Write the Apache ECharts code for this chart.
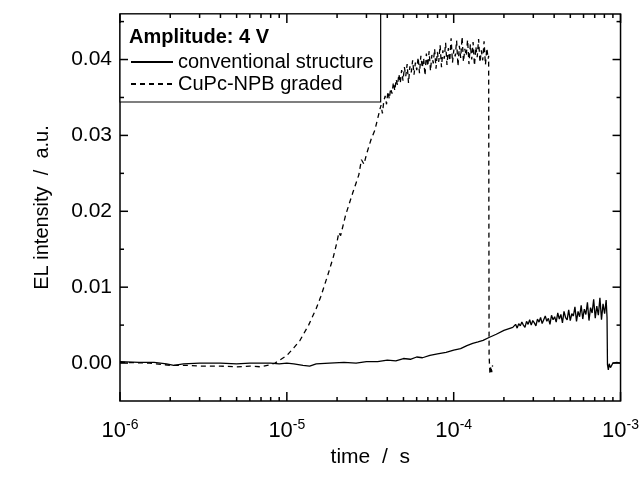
<html style="height: 100%">
<head>
<meta charset="utf-8">
</head>
<body style="height: 100%; margin: 0">
	<div id="container" style="width: 642px; height: 477px"></div>

	<script src="https://cdn.jsdelivr.net/npm/echarts@6/dist/echarts.min.js"></script>
	<script type="text/javascript">
		var dom = document.getElementById("container");
		var myChart = echarts.init(dom);

		var fontFamily = 'Liberation Sans, Arial, sans-serif';

		// axis ranges and tick values
		var xMin = 1e-6, xMax = 1e-3;
		var yMin = -0.005, yMax = 0.046;
		var yLabels = [0, 0.01, 0.02, 0.03, 0.04];
		var yMinor = [0.005, 0.015, 0.025, 0.035, 0.045];
		var xMajor = [1e-6, 1e-5, 1e-4, 1e-3];
		var xMinor = [2e-6, 3e-6, 4e-6, 5e-6, 6e-6, 7e-6, 8e-6, 9e-6,
			2e-5, 3e-5, 4e-5, 5e-5, 6e-5, 7e-5, 8e-5, 9e-5,
			2e-4, 3e-4, 4e-4, 5e-4, 6e-4, 7e-4, 8e-4, 9e-4];

		// conventional structure (solid)
		var solidT = [1e-6, 1.3e-6, 1.6e-6, 1.9e-6, 2.1e-6, 2.4e-6, 3e-6, 4e-6, 5e-6, 6e-6, 7e-6, 8e-6, 9e-6,
			1e-5, 1.1e-5, 1.25e-5, 1.37e-5, 1.5e-5, 1.8e-5, 2.2e-5, 2.6e-5, 3e-5, 3.5e-5, 4e-5, 4.5e-5,
			5e-5, 5.5e-5, 6e-5, 6.5e-5, 7.2e-5, 8e-5, 9e-5, 1e-4, 1.1e-4, 1.2e-4, 1.3e-4, 1.4e-4,
			1.5e-4, 1.64e-4, 1.8e-4, 2e-4, 2.26e-4];
		var solidV = [0.0002, 0.0001, 0.0001, -0.0001, -0.0003, -0.0001, 0, 0, -0.0001, 0, 0, 0, -0.0001,
			0, -0.0001, -0.0003, -0.0004, -0.0001, 0, 0.0001, 0, 0.0002, 0.0002, 0.0004, 0.0003,
			0.0006, 0.0005, 0.0008, 0.0007, 0.0010, 0.0012, 0.0014, 0.0017, 0.0019, 0.0023, 0.0026, 0.0028,
			0.0030, 0.0034, 0.0038, 0.0043, 0.0047];
		// noisy part, 2.3e-4 .. 8.2e-4
		var solidNoiseV = [0.0048, 0.0051, 0.0046, 0.0052, 0.0049, 0.0054, 0.0050, 0.0047, 0.0055, 0.0051,
			0.0057, 0.0050, 0.0056, 0.0053, 0.0049, 0.0058, 0.0054, 0.0060, 0.0052, 0.0057,
			0.0062, 0.0055, 0.0059, 0.0051, 0.0063, 0.0057, 0.0061, 0.0054, 0.0066, 0.0058,
			0.0064, 0.0053, 0.0068, 0.0060, 0.0057, 0.0070, 0.0056, 0.0065, 0.0062, 0.0074,
			0.0055, 0.0068, 0.0061, 0.0076, 0.0058, 0.0071, 0.0064, 0.0080, 0.0056, 0.0073,
			0.0066, 0.0084, 0.0059, 0.0075, 0.0063, 0.0086, 0.0057, 0.0078, 0.0065, 0.0083];
		var solidTailT = [8.3e-4, 8.35e-4, 8.45e-4, 8.55e-4, 8.7e-4, 9e-4, 9.5e-4, 1e-3];
		var solidTailV = [0.0060, -0.0002, -0.0009, -0.0001, -0.0006, 0.0000, 0.0001, 0.0000];

		// CuPc-NPB graded (dashed)
		var dashT = [1e-6, 1.5e-6, 2e-6, 2.5e-6, 3e-6, 4e-6, 5e-6, 6e-6, 7e-6, 8e-6, 8.5e-6, 9.1e-6,
			1e-5, 1.1e-5, 1.2e-5, 1.35e-5, 1.5e-5, 1.6e-5, 1.76e-5, 1.9e-5, 2e-5, 2.05e-5, 2.1e-5,
			2.25e-5, 2.48e-5, 2.7e-5, 2.8e-5, 2.9e-5, 3.0e-5, 3.2e-5, 3.37e-5, 3.5e-5];
		var dashV = [0.0001, 0, -0.0003, -0.0003, -0.0004, -0.0004, -0.0005, -0.0004, -0.0005, -0.0002, 0, 0.0004,
			0.0010, 0.0020, 0.0030, 0.0050, 0.0072, 0.0088, 0.0116, 0.0140, 0.0160, 0.0172, 0.0168,
			0.0195, 0.0224, 0.0248, 0.0268, 0.0262, 0.0275, 0.0295, 0.0307, 0.0322];
		// noisy part, 3.6e-5 .. 1.61e-4
		var dashNoiseV = [0.0333, 0.0340, 0.0329, 0.0345, 0.0352, 0.0341, 0.0358, 0.0348, 0.0362, 0.0355,
			0.0370, 0.0359, 0.0374, 0.0366, 0.0381, 0.0369, 0.0386, 0.0372, 0.0390, 0.0378,
			0.0394, 0.0369, 0.0391, 0.0383, 0.0399, 0.0380, 0.0396, 0.0386, 0.0403, 0.0382,
			0.0405, 0.0389, 0.0402, 0.0379, 0.0408, 0.0391, 0.0411, 0.0385, 0.0406, 0.0395,
			0.0414, 0.0388, 0.0410, 0.0397, 0.0419, 0.0390, 0.0412, 0.0401, 0.0422, 0.0393,
			0.0415, 0.0398, 0.0428, 0.0396, 0.0413, 0.0404, 0.0425, 0.0391, 0.0418, 0.0402,
			0.0430, 0.0397, 0.0414, 0.0405, 0.0426, 0.0394, 0.0420, 0.0400, 0.0423, 0.0392,
			0.0417, 0.0403, 0.0427, 0.0396, 0.0412, 0.0399, 0.0424, 0.0393, 0.0415, 0.0401];
		var dashTailT = [1.62e-4, 1.63e-4, 1.65e-4, 1.67e-4, 1.69e-4, 1.71e-4];
		var dashTailV = [0.0405, 0.0010, -0.0015, -0.0004, -0.0012, -0.0003];

		// sample times for the noisy stretches, evenly spaced on the log axis
		function logGrid(t0, t1, n) {
			var arr = [];
			for (var i = 0; i < n; i++) {
				arr.push(t0 * Math.pow(t1 / t0, i / (n - 1)));
			}
			return arr;
		}

		function zip(ts, vs) {
			var arr = [];
			for (var i = 0; i < ts.length; i++) {
				arr.push([ts[i], vs[i]]);
			}
			return arr;
		}

		var solidData = zip(solidT, solidV)
			.concat(zip(logGrid(2.3e-4, 8.2e-4, solidNoiseV.length), solidNoiseV))
			.concat(zip(solidTailT, solidTailV));
		var dashData = zip(dashT, dashV)
			.concat(zip(logGrid(3.6e-5, 1.61e-4, dashNoiseV.length), dashNoiseV))
			.concat(zip(dashTailT, dashTailV));

		var option = {
			animation: false,
			backgroundColor: '#fff',
			title: {
				text: 'Amplitude: 4 V',
				left: 129,
				top: 27,
				padding: 0,
				textStyle: { fontSize: 20, fontWeight: 'bold', color: '#000', fontFamily: fontFamily }
			},
			legend: {
				orient: 'vertical',
				left: 120,
				top: 14,
				padding: [38, 7, 8, 10],
				itemGap: 2,
				itemWidth: 42,
				itemHeight: 2,
				borderColor: '#000',
				borderWidth: 1.2,
				backgroundColor: '#fff',
				textStyle: { fontSize: 20, lineHeight: 20, color: '#000', fontFamily: fontFamily },
				data: ['conventional structure', 'CuPc-NPB graded']
			},
			grid: {
				left: 120, right: 21, top: 14, bottom: 76,
				show: true, borderColor: '#000', borderWidth: 1.5, backgroundColor: 'transparent'
			},
			xAxis: {
				type: 'log',
				logBase: 10,
				min: xMin,
				max: xMax,
				name: 'time  /  s',
				nameLocation: 'middle',
				nameGap: 44,
				nameTextStyle: { fontSize: 21, color: '#000', fontFamily: fontFamily },
				axisLine: { show: false },
				axisTick: { show: false },
				axisLabel: {
					customValues: xMajor,
					margin: 17,
					formatter: function (v) {
						return '{b|10}{s|' + Math.round(Math.log10(v)) + '}';
					},
					rich: {
						b: { fontSize: 22, color: '#000', fontFamily: fontFamily },
						s: { fontSize: 14, color: '#000', fontFamily: fontFamily, verticalAlign: 'top', padding: [0, 0, 12, 0] }
					}
				},
				splitLine: { show: false }
			},
			yAxis: {
				type: 'value',
				min: yMin,
				max: yMax,
				name: 'EL intensity  /  a.u.',
				nameLocation: 'middle',
				nameGap: 68,
				nameTextStyle: { fontSize: 20, color: '#000', fontFamily: fontFamily },
				axisLine: { show: false },
				axisTick: { show: false },
				axisLabel: {
					customValues: yLabels,
					margin: 8,
					fontSize: 21,
					color: '#000',
					fontFamily: fontFamily,
					formatter: function (v) { return v.toFixed(2); }
				},
				splitLine: { show: false }
			},
			series: [{
				name: 'conventional structure',
				type: 'line',
				symbol: 'none',
				lineStyle: { color: '#000', width: 1.3 },
				itemStyle: { color: '#000' },
				data: solidData
			}, {
				name: 'CuPc-NPB graded',
				type: 'line',
				symbol: 'none',
				lineStyle: { color: '#000', width: 1.3, type: [5, 4] },
				itemStyle: { color: '#000' },
				data: dashData
			}]
		};

		myChart.setOption(option);

		// inward ticks on all four sides, placed through the chart's own axis scales
		var finder = { xAxisIndex: 0, yAxisIndex: 0 };
		var tickEls = [];
		function tickLine(x1, y1, x2, y2) {
			tickEls.push({
				type: 'line',
				silent: true,
				z: 100,
				shape: { x1: x1, y1: y1, x2: x2, y2: y2 },
				style: { stroke: '#000', lineWidth: 1.5 }
			});
		}
		function xTicks(values, len) {
			values.forEach(function (t) {
				var b = myChart.convertToPixel(finder, [t, yMin]);
				var tp = myChart.convertToPixel(finder, [t, yMax]);
				tickLine(b[0], b[1], b[0], b[1] - len);
				tickLine(tp[0], tp[1], tp[0], tp[1] + len);
			});
		}
		function yTicks(values, len) {
			values.forEach(function (v) {
				var l = myChart.convertToPixel(finder, [xMin, v]);
				var r = myChart.convertToPixel(finder, [xMax, v]);
				tickLine(l[0], l[1], l[0] + len, l[1]);
				tickLine(r[0], r[1], r[0] - len, r[1]);
			});
		}
		xTicks(xMajor, 9);
		xTicks(xMinor, 4);
		yTicks(yLabels, 8);
		yTicks(yMinor, 4);

		myChart.setOption({ graphic: { elements: tickEls } });
	</script>
</body>
</html>
